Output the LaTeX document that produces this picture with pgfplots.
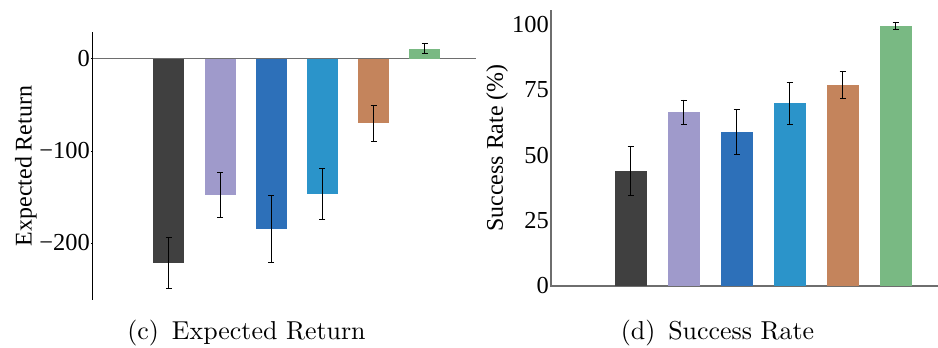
\documentclass[border=0pt]{standalone}
\usepackage{pgfplots}
\pgfplotsset{compat=1.18}
\usepackage{fontspec}
\newfontfamily\tnr{Liberation Serif}
\newfontfamily\lmten[Extension=.otf]{lmroman10-regular}
\definecolor{c1}{HTML}{404040}
\definecolor{c2}{HTML}{9F9ACB}
\definecolor{c3}{HTML}{2D70B9}
\definecolor{c4}{HTML}{2B94CA}
\definecolor{c5}{HTML}{C4845C}
\definecolor{c6}{HTML}{79B983}
\definecolor{axgray}{HTML}{6E6E6E}
\pgfplotsset{
  eb/.style={error bars/.cd, y dir=both, y explicit,
    error bar style={black, line width=0.8bp},
    error mark options={rotate=90, black, mark size=3bp, line width=0.8bp}},
  common/.style={
    scale only axis, anchor=south west,
    xtick=\empty,
    tick label style={font=\tnr\fontsize{24.5}{28}\selectfont},
    label style={font=\tnr\fontsize{24}{28}\selectfont},
    /pgf/number format/assume math mode=true,
    hide obscured y ticks=false,
    tick align=outside, major tick length=2bp,
    yticklabel style={inner xsep=1bp},
    clip=false,
  }
}
\begin{document}
\begin{tikzpicture}
\useasboundingbox (0,0) rectangle (938bp,348bp);
\begin{axis}[common,
  at={(92bp,48bp)}, width=384bp, height=268bp,
  xmin=-0.5, xmax=7, ymin=-262, ymax=29,
  axis x line=middle, axis y line=left,
  x axis line style={-, draw=axgray, line width=1.1bp},
  y axis line style={-, draw=black, line width=0.9bp},
  ytick style={draw=black, line width=0.6bp},
  ytick={-200,-100,0}, yticklabels={−200,−100,0},
  ylabel={Expected Return},
  ylabel style={at={(axis description cs:-0.172,0.5)}, anchor=center},
]
\addplot[ybar, bar width=31bp, bar shift=0pt, fill=c1, draw=none, eb] coordinates {(1,-221.7) +- (0,28)};
\addplot[ybar, bar width=31bp, bar shift=0pt, fill=c2, draw=none, eb] coordinates {(2,-147.8) +- (0,24.5)};
\addplot[ybar, bar width=31bp, bar shift=0pt, fill=c3, draw=none, eb] coordinates {(3,-184.8) +- (0,36)};
\addplot[ybar, bar width=31bp, bar shift=0pt, fill=c4, draw=none, eb] coordinates {(4,-146.7) +- (0,27.5)};
\addplot[ybar, bar width=31bp, bar shift=0pt, fill=c5, draw=none, eb] coordinates {(5,-70.3) +- (0,19.7)};
\addplot[ybar, bar width=31bp, bar shift=0pt, fill=c6, draw=none, eb] coordinates {(6,10.9) +- (0,5.5)};
\end{axis}
\begin{axis}[common,
  at={(551bp,62bp)}, width=387bp, height=276bp,
  xmin=-0.5, xmax=6.8, ymin=0, ymax=105.6,
  axis x line=bottom, axis y line=left,
  x axis line style={-, draw=axgray, line width=1.1bp},
  y axis line style={-, draw=axgray, line width=1.1bp},
  ytick style={draw=axgray, line width=0.6bp},
  ytick={0,25,50,75,100},
  ylabel={Success Rate (\%)},
  ylabel style={at={(axis description cs:-0.1395,0.5)}, anchor=center},
]
\addplot[ybar, bar width=32bp, bar shift=0pt, fill=c1, draw=none, eb] coordinates {(1,44.0) +- (0,9.5)};
\addplot[ybar, bar width=32bp, bar shift=0pt, fill=c2, draw=none, eb] coordinates {(2,66.6) +- (0,4.6)};
\addplot[ybar, bar width=32bp, bar shift=0pt, fill=c3, draw=none, eb] coordinates {(3,58.9) +- (0,8.6)};
\addplot[ybar, bar width=32bp, bar shift=0pt, fill=c4, draw=none, eb] coordinates {(4,70.0) +- (0,8.0)};
\addplot[ybar, bar width=32bp, bar shift=0pt, fill=c5, draw=none, eb] coordinates {(5,76.9) +- (0,5.2)};
\addplot[ybar, bar width=32bp, bar shift=0pt, fill=c6, draw=none, eb] coordinates {(6,99.5) +- (0,1.3)};
\end{axis}
\node[anchor=base, font=\lmten\fontsize{26}{30}\selectfont] at (246.5bp,9bp) {(c)\hspace{0.5em}Expected Return};
\node[anchor=base, font=\lmten\fontsize{26}{30}\selectfont] at (717.5bp,9bp) {(d)\hspace{0.5em}Success Rate};
\end{tikzpicture}
\end{document}
